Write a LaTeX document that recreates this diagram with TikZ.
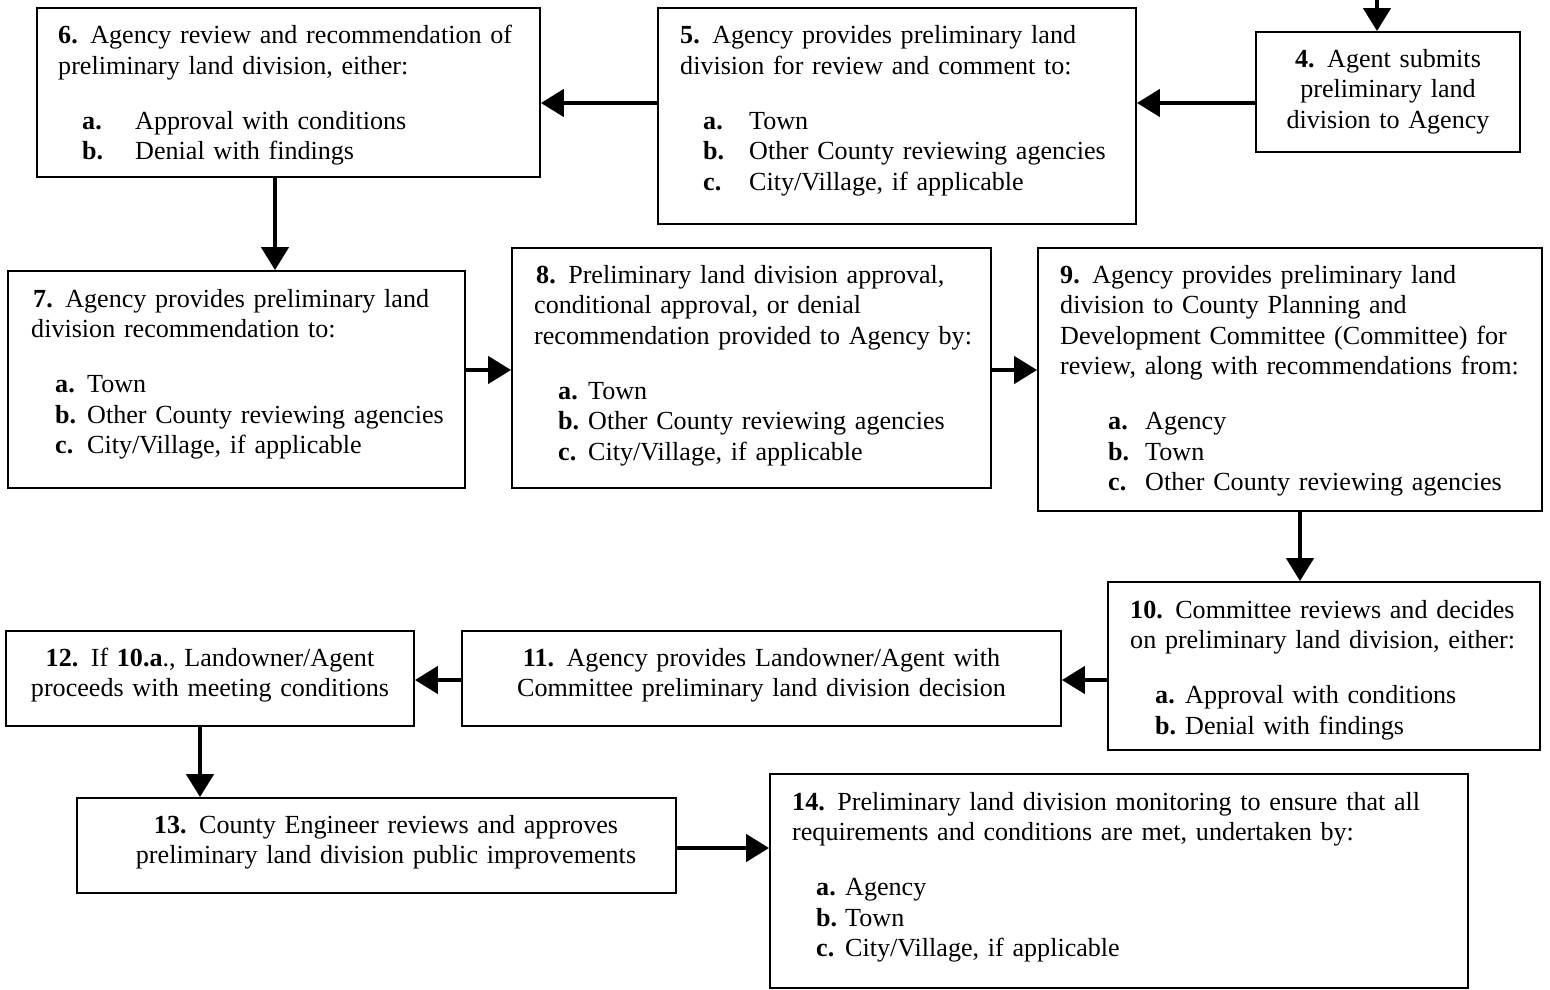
\documentclass[tikz,border=0pt]{standalone}
\usepackage{fontspec}
\setmainfont{Liberation Serif}
\usetikzlibrary{arrows.meta}
\tikzset{
  box/.style={draw=black, line width=1.8pt, inner sep=0pt, fill=white},
  txt/.style={inner sep=0pt, align=left, anchor=base west, font=\fontsize{26.1}{30.5}\selectfont},
  ctxt/.style={inner sep=0pt, align=center, anchor=base, font=\fontsize{26.1}{30.5}\selectfont},
  arr/.style={line width=4.5pt, -{Triangle[width=27pt,length=23pt]}},
}
\newcommand{\itm}[3]{\hspace*{#1}\makebox[#2][l]{\textbf{#3}}}
\newcommand{\nsp}{\hspace{12.5pt}}
\begin{document}
\begin{tikzpicture}[x=1pt,y=-1pt]
\useasboundingbox (0,0) rectangle (1550,990);
\clip (0,0) rectangle (1550,990);
% boxes
\node[box, minimum width=503pt, minimum height=169pt] (b6) at (288.5,92.5) {};
\node[box, minimum width=478pt, minimum height=216pt] (b5) at (897,116) {};
\node[box, minimum width=264pt, minimum height=120pt] (b4) at (1388,92) {};
\node[box, minimum width=457pt, minimum height=217pt] (b7) at (236.5,379.5) {};
\node[box, minimum width=479pt, minimum height=240pt] (b8) at (751.5,368) {};
\node[box, minimum width=504pt, minimum height=263pt] (b9) at (1290,379.5) {};
\node[box, minimum width=432pt, minimum height=168pt] (b10) at (1324,666) {};
\node[box, minimum width=599pt, minimum height=95pt] (b11) at (761.5,678.5) {};
\node[box, minimum width=408pt, minimum height=95pt] (b12) at (210,678.5) {};
\node[box, minimum width=599pt, minimum height=95pt] (b13) at (376.5,845.5) {};
\node[box, minimum width=698pt, minimum height=214pt] (b14) at (1119,881) {};
% texts
\node[txt, text width=480pt] (t6) at (58,44) {\textbf{6.}\nsp Agency review and recommendation of\\
preliminary land division, either:\\[24.5pt]
\itm{24pt}{53pt}{a.}Approval with conditions\\
\itm{24pt}{53pt}{b.}Denial with findings};
\node[txt, text width=450pt] (t5) at (680,44) {\textbf{5.}\nsp Agency provides preliminary land\\
division for review and comment to:\\[24.5pt]
\itm{23pt}{46pt}{a.}Town\\
\itm{23pt}{46pt}{b.}Other County reviewing agencies\\
\itm{23pt}{46pt}{c.}City/Village, if applicable};
\node[ctxt, text width=260pt] (t4) at (1388,67) {\textbf{4.}\nsp Agent submits\\ preliminary land\\ division to Agency};
\node[txt, text width=430pt] (t7) at (31,307) {\hspace*{2pt}\textbf{7.}\nsp Agency provides preliminary land\\
division recommendation to:\\[24.5pt]
\itm{24pt}{32pt}{a.}Town\\
\itm{24pt}{32pt}{b.}Other County reviewing agencies\\
\itm{24pt}{32pt}{c.}City/Village, if applicable};
\node[txt, text width=450pt] (t8) at (534,283) {\hspace*{2pt}\textbf{8.}\nsp Preliminary land division approval,\\
conditional approval, or denial\\
recommendation provided to Agency by:\\[24.5pt]
\itm{24pt}{30pt}{a.}Town\\
\itm{24pt}{30pt}{b.}Other County reviewing agencies\\
\itm{24pt}{30pt}{c.}City/Village, if applicable};
\node[txt, text width=480pt] (t9) at (1060,283) {\textbf{9.}\nsp Agency provides preliminary land\\
division to County Planning and\\
Development Committee (Committee) for\\
review, along with recommendations from:\\[24.5pt]
\itm{48pt}{37pt}{a.}Agency\\
\itm{48pt}{37pt}{b.}Town\\
\itm{48pt}{37pt}{c.}Other County reviewing agencies};
\node[txt, text width=410pt] (t10) at (1130,618) {\textbf{10.}\nsp Committee reviews and decides\\
on preliminary land division, either:\\[24.5pt]
\itm{25pt}{30pt}{a.}Approval with conditions\\
\itm{25pt}{30pt}{b.}Denial with findings};
\node[ctxt, text width=580pt] (t11) at (761.5,666) {\textbf{11.}\nsp Agency provides Landowner/Agent with\\
Committee preliminary land division decision};
\node[ctxt, text width=400pt] (t12) at (210,666) {\textbf{12.}\nsp If \textbf{10.a}., Landowner/Agent\\
proceeds with meeting conditions};
\node[ctxt, text width=580pt] (t13) at (386,833) {\textbf{13.}\nsp County Engineer reviews and approves\\
preliminary land division public improvements};
\node[txt, text width=670pt] (t14) at (792,810) {\textbf{14.}\nsp Preliminary land division monitoring to ensure that all\\
requirements and conditions are met, undertaken by:\\[24.5pt]
\itm{24pt}{29pt}{a.}Agency\\
\itm{24pt}{29pt}{b.}Town\\
\itm{24pt}{29pt}{c.}City/Village, if applicable};
% arrow guide coordinates
\coordinate (top4) at (1377,-2);
\coordinate (y45) at (0,103);
\coordinate (x67) at (275,0);
\coordinate (y789) at (0,370);
\coordinate (x910) at (1300,0);
\coordinate (y101112) at (0,680);
\coordinate (x1213) at (200,0);
\coordinate (y1314) at (0,848);
% arrows
\draw[arr] (top4) -- (top4 |- b4.north);
\draw[arr] (b4.west |- y45) -- (b5.east |- y45);
\draw[arr] (b5.west |- y45) -- (b6.east |- y45);
\draw[arr] (b6.south -| x67) -- (b7.north -| x67);
\draw[arr] (b7.east |- y789) -- (b8.west |- y789);
\draw[arr] (b8.east |- y789) -- (b9.west |- y789);
\draw[arr] (b9.south -| x910) -- (b10.north -| x910);
\draw[arr] (b10.west |- y101112) -- (b11.east |- y101112);
\draw[arr] (b11.west |- y101112) -- (b12.east |- y101112);
\draw[arr] (b12.south -| x1213) -- (b13.north -| x1213);
\draw[arr] (b13.east |- y1314) -- (b14.west |- y1314);
\end{tikzpicture}
\end{document}
